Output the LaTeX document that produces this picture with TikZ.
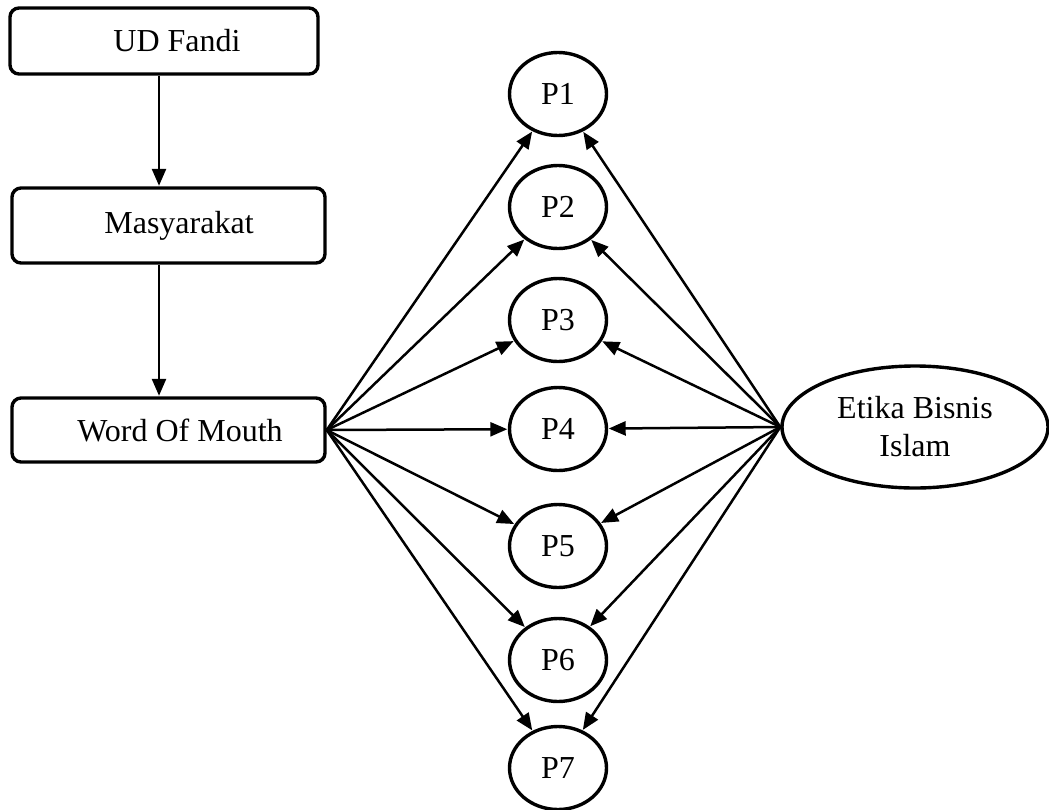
\documentclass[tikz,border=0pt]{standalone}
\usepackage{fontspec}
\setmainfont{Liberation Serif}
\usetikzlibrary{shapes.geometric,arrows.meta}
\begin{document}
\begin{tikzpicture}[x=1pt,y=-1pt,
  every node/.style={font=\fontsize{32}{38}\selectfont},
  stage/.style={draw,line width=3.4pt,rounded corners=9pt,minimum width=#1,inner sep=0pt},
  pnode/.style={draw,ellipse,line width=3.4pt,minimum width=97pt,minimum height=83pt,inner sep=0pt},
  link/.style={line width=2.5pt,-{Triangle[length=17pt,width=14pt]},shorten >=0.5pt}]
\useasboundingbox (0,0) rectangle (1049,809);

% left column of stages
\node[stage=308pt,minimum height=66pt] (ud)  at (164,41)    {\hspace*{26pt}UD Fandi};
\node[stage=313pt,minimum height=75pt] (mas) at (168.5,225.5) {\hspace*{21pt}Masyarakat};
\node[stage=313pt,minimum height=64pt] (wom) at (168.5,430)   {\hspace*{23pt}Word Of Mouth};
\coordinate (spine) at (159,0);
\draw[link] (ud.south -| spine) -- (mas.north -| spine);
\draw[link] (mas.south -| spine) -- (wom.north -| spine);

% the seven points
\foreach \i/\y in {1/94,2/207,3/320,4/429,5/546,6/660,7/768}
  \node[pnode] (p\i) at (558,\y) {P\i};

% right-hand source
\node[draw,ellipse,line width=3.4pt,minimum width=266pt,minimum height=122pt,
      inner sep=0pt,align=center] (eb) at (915,427) {Etika Bisnis\\Islam};

% fan of links from both sides
\foreach \i in {1,...,7}{
  \draw[link] (wom.east) -- (p\i);
  \draw[link] (eb.west) -- (p\i);
}
\end{tikzpicture}
\end{document}
